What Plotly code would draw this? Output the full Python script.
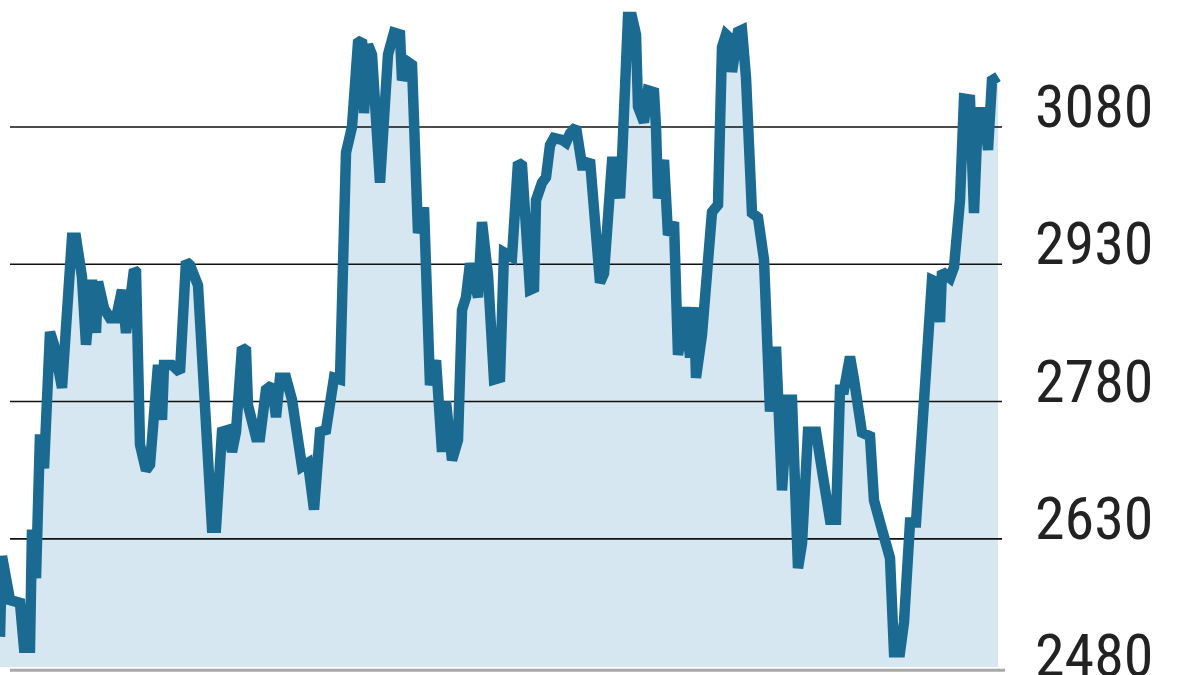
import plotly.graph_objects as go

# Trading-day index (x) and index level (y)
day = [0, 1, 5, 10, 12, 15, 16, 18, 20, 22,
       25, 27, 31, 36, 38, 41, 43, 46, 48, 49,
       52, 55, 58, 61, 63, 67, 68, 70, 73, 75,
       76, 79, 81, 82, 86, 90, 93, 95, 99, 106,
       108, 111, 114, 116, 118, 121, 123, 124, 128, 130,
       133, 136, 138, 140, 143, 146, 151, 154, 157, 160,
       163, 167, 170, 173, 176, 179, 181, 182, 184, 186,
       190, 194, 197, 200, 201, 204, 206, 209, 212, 215,
       218, 221, 223, 226, 229, 231, 233, 235, 239, 241,
       244, 247, 250, 252, 256, 259, 261, 262, 265, 267,
       268, 271, 273, 275, 277, 281, 283, 285, 288, 291,
       293, 295, 297, 300, 302, 306, 308, 310, 311, 314,
       316, 318, 319, 322, 324, 327, 328, 329, 332, 334,
       337, 339, 343, 345, 347, 348, 351, 356, 359, 361,
       363, 365, 366, 369, 371, 373, 376, 379, 382, 385,
       388, 391, 394, 396, 399, 401, 404, 408, 411, 415,
       418, 420, 422, 425, 427, 431, 435, 437, 441, 445,
       447, 450, 452, 455, 458, 463, 465, 466, 468, 470,
       471, 475, 477, 480, 482, 485, 487, 489, 492, 494,
       496, 499]

level = [2523, 2611, 2563, 2560, 2511, 2511, 2640, 2587, 2744, 2707,
         2856, 2842, 2795, 2959, 2959, 2916, 2842, 2913, 2855, 2911,
         2882, 2871, 2871, 2902, 2855, 2924, 2922, 2733, 2705, 2711,
         2749, 2820, 2760, 2820, 2820, 2812, 2933, 2929, 2907, 2642,
         2642, 2747, 2749, 2725, 2747, 2839, 2836, 2776, 2741, 2741,
         2793, 2798, 2763, 2806, 2806, 2782, 2709, 2713, 2662, 2747,
         2749, 2806, 2804, 3052, 3080, 3172, 3175, 3095, 3170, 3159,
         3019, 3159, 3183, 3181, 3131, 3151, 3148, 2964, 2992, 2798,
         2825, 2725, 2780, 2716, 2738, 2880, 2894, 2931, 2894, 2976,
         2918, 2804, 2806, 2943, 2938, 3041, 3038, 2989, 2902, 2904,
         3000, 3019, 3025, 3060, 3068, 3066, 3063, 3073, 3080, 3038,
         3038, 3044, 2993, 2910, 2920, 3042, 3042, 3002, 3044, 3200,
         3200, 3181, 3102, 3085, 3120, 3118, 3080, 3002, 3044, 2962,
         2976, 2831, 2883, 2828, 2883, 2806, 2853, 2987, 2995, 3167,
         3181, 3177, 3140, 3184, 3186, 3134, 2986, 2981, 2935, 2769,
         2840, 2683, 2782, 2782, 2598, 2625, 2747, 2747, 2705, 2651,
         2651, 2793, 2793, 2829, 2804, 2746, 2742, 2672, 2640, 2609,
         2506, 2506, 2539, 2648, 2648, 2818, 2867, 2913, 2911, 2867,
         2922, 2915, 2927, 3000, 3111, 3110, 2986, 3096, 3096, 3055,
         3131, 3135]

grid_values = [3080, 2930, 2780, 2630]
tick_labels = ["3080", "2930", "2780", "2630", "2480"]
tick_values = [3080, 2930, 2780, 2630, 2480]

LINE = "#1a6a91"
FILL = "#d6e7f1"
X_RANGE = [0, 501]
Y_RANGE = [2490, 3218.7]
GRID_X0 = 5  # gridlines start slightly right of the plot's left edge

fig = go.Figure()

# area fill (no outline)
fig.add_trace(go.Scatter(
    x=day, y=level, mode="lines", line=dict(width=0, color=FILL),
    fill="tozeroy", fillcolor=FILL, hoverinfo="skip", showlegend=False))

# gridlines drawn over the fill, under the line
gx, gy = [], []
for v in grid_values:
    gx += [GRID_X0, X_RANGE[1], None]
    gy += [v, v, None]
fig.add_trace(go.Scatter(
    x=gx, y=gy, mode="lines", line=dict(color="#111111", width=1.6),
    hoverinfo="skip", showlegend=False))

# main line
fig.add_trace(go.Scatter(
    x=day, y=level, mode="lines", line=dict(color=LINE, width=10.5),
    showlegend=False))

# right-hand value labels, baseline resting on the gridline
span = Y_RANGE[1] - Y_RANGE[0]
for lab, v in zip(tick_labels, tick_values):
    fig.add_annotation(
        x=1.031, xref="paper", y=(v - Y_RANGE[0]) / span, yref="paper",
        text=lab, showarrow=False,
        xanchor="left", yanchor="bottom", yshift=-17,
        font=dict(family="Liberation Sans Narrow, Roboto Condensed, Roboto, sans-serif",
                  size=60, color="#222222"))

# grey baseline
fig.add_shape(type="line", xref="paper", yref="paper",
              x0=10 / 1002, x1=1.003, y0=-0.005, y1=-0.005,
              line=dict(color="#a8a8a8", width=3))

fig.update_layout(
    width=1200, height=675,
    margin=dict(l=0, r=198, t=0, b=8),
    paper_bgcolor="white", plot_bgcolor="white",
    xaxis=dict(range=X_RANGE, visible=False, fixedrange=True),
    yaxis=dict(range=Y_RANGE, visible=False, fixedrange=True),
)

fig.write_html("out.html", config={"displayModeBar": False},
               post_script="document.body.style.margin='0';")
